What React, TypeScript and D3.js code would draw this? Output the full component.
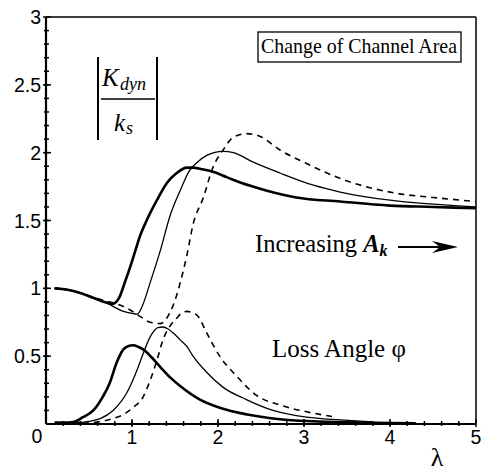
import React from "react";
import * as d3 from "d3";

// Upper curves: |K_dyn / k_s|
const u1X = [0.1, 0.25, 0.4, 0.55, 0.7, 0.77, 0.85, 0.92, 0.98, 1.04, 1.09, 1.17, 1.29, 1.41, 1.52, 1.64, 1.71, 1.8, 1.94, 2.1, 2.26, 2.57, 2.91, 3.42, 4.0, 4.5, 5.0];
const u1Y = [1.0, 0.99, 0.965, 0.93, 0.895, 0.885, 0.93, 1.05, 1.16, 1.28, 1.38, 1.5, 1.65, 1.78, 1.85, 1.89, 1.89, 1.88, 1.86, 1.82, 1.78, 1.72, 1.67, 1.64, 1.61, 1.6, 1.59];
const u2X = [0.1, 0.25, 0.4, 0.55, 0.7, 0.8, 0.9, 1.0, 1.06, 1.12, 1.21, 1.33, 1.44, 1.56, 1.67, 1.76, 1.87, 2.06, 2.18, 2.41, 2.72, 3.11, 3.42, 4.0, 4.5, 5.0];
const u2Y = [1.0, 0.99, 0.965, 0.93, 0.895, 0.86, 0.83, 0.815, 0.81, 0.87, 1.04, 1.28, 1.53, 1.72, 1.87, 1.93, 1.98, 2.01, 2.0, 1.93, 1.85, 1.76, 1.71, 1.65, 1.62, 1.6];
const u3X = [0.1, 0.25, 0.4, 0.55, 0.7, 0.8, 0.98, 1.1, 1.21, 1.33, 1.44, 1.52, 1.56, 1.64, 1.71, 1.83, 1.94, 2.06, 2.17, 2.33, 2.49, 2.72, 3.03, 3.38, 4.08, 4.5, 5.0];
const u3Y = [1.0, 0.99, 0.965, 0.935, 0.905, 0.89, 0.84, 0.79, 0.75, 0.74, 0.82, 0.95, 1.04, 1.25, 1.47, 1.67, 1.89, 2.02, 2.11, 2.14, 2.12, 2.02, 1.92, 1.82, 1.7, 1.67, 1.64];

// Lower curves: loss angle
const l1X = [0.1, 0.2, 0.32, 0.43, 0.55, 0.66, 0.74, 0.82, 0.9, 0.96, 1.01, 1.07, 1.13, 1.23, 1.33, 1.45, 1.56, 1.79, 2.02, 2.34, 2.72, 3.1, 3.5, 4.0, 4.3];
const l1Y = [0.01, 0.01, 0.015, 0.05, 0.1, 0.2, 0.3, 0.45, 0.55, 0.575, 0.58, 0.57, 0.55, 0.49, 0.42, 0.34, 0.28, 0.18, 0.12, 0.07, 0.035, 0.02, 0.012, 0.007, 0.005];
const l2X = [0.1, 0.32, 0.5, 0.63, 0.78, 0.94, 1.06, 1.13, 1.21, 1.3, 1.36, 1.42, 1.48, 1.56, 1.64, 1.71, 1.87, 2.06, 2.33, 2.64, 3.03, 3.42, 3.8];
const l2Y = [0.005, 0.01, 0.02, 0.04, 0.1, 0.23, 0.4, 0.52, 0.64, 0.71, 0.715, 0.7, 0.67, 0.62, 0.57, 0.5, 0.38, 0.27, 0.18, 0.1, 0.05, 0.03, 0.015];
const l3X = [0.43, 0.6, 0.78, 0.9, 1.01, 1.13, 1.21, 1.29, 1.36, 1.44, 1.52, 1.58, 1.64, 1.7, 1.76, 1.87, 2.02, 2.22, 2.45, 2.72, 3.03, 3.38];
const l3Y = [0.005, 0.015, 0.04, 0.07, 0.12, 0.2, 0.32, 0.47, 0.62, 0.72, 0.78, 0.82, 0.83, 0.82, 0.8, 0.67, 0.5, 0.35, 0.21, 0.14, 0.09, 0.05];

const xTickLabels = ["1", "2", "3", "4", "5"];
const yTickLabels = ["0.5", "1", "1.5", "2", "2.5", "3"];

const W = 483;
const H = 474;

export default function App() {
  const x = d3.scaleLinear().domain([0, 5]).range([46, 476]);
  const y = d3.scaleLinear().domain([0, 3]).range([424, 17]);
  const line = d3
    .line<[number, number]>()
    .x((d) => x(d[0]))
    .y((d) => y(d[1]))
    .curve(d3.curveMonotoneX);
  const pts = (xs: number[], ys: number[]) => xs.map((v, i) => [v, ys[i]] as [number, number]);

  const series = [
    { d: pts(u1X, u1Y), w: 2.6, dash: "" },
    { d: pts(u2X, u2Y), w: 1.3, dash: "" },
    { d: pts(u3X, u3Y), w: 1.6, dash: "6,5" },
    { d: pts(l1X, l1Y), w: 2.6, dash: "" },
    { d: pts(l2X, l2Y), w: 1.3, dash: "" },
    { d: pts(l3X, l3Y), w: 1.6, dash: "6,5" },
  ];

  const yMinor = d3.range(1, 30).map((i) => i / 10);
  const xMinor = d3.range(1, 25).map((i) => i / 5);
  const sans = "'Liberation Sans', Arial, sans-serif";
  const serif = "'Liberation Serif', 'Times New Roman', serif";

  return (
    <svg width={W} height={H} style={{ position: "absolute", left: 0, top: 0, background: "#fff" }}>
      {/* frame */}
      <line x1={x(0)} x2={x(5)} y1={y(3)} y2={y(3)} stroke="#000" strokeWidth={1.5} />
      <line x1={x(5)} x2={x(5)} y1={y(3)} y2={y(0)} stroke="#000" strokeWidth={1.5} />
      <line x1={x(0)} x2={x(0)} y1={y(3)} y2={y(0)} stroke="#000" strokeWidth={2.2} />
      <line x1={x(0)} x2={x(5)} y1={y(0)} y2={y(0)} stroke="#000" strokeWidth={2.2} />

      {/* y ticks */}
      {yMinor.map((v) => (
        <line key={"ym" + v} x1={x(0) - 2} x2={x(0) + 3} y1={y(v)} y2={y(v)} stroke="#000" strokeWidth={1.5} />
      ))}
      {yTickLabels.map((t) => (
        <g key={"yl" + t}>
          <line x1={x(0) - 3} x2={x(0) + 5} y1={y(+t)} y2={y(+t)} stroke="#000" strokeWidth={1.5} />
          <text x={41} y={y(+t)} dy="0.36em" textAnchor="end" fontFamily={sans} fontSize={19.5}>
            {t}
          </text>
        </g>
      ))}
      {/* x ticks */}
      {xMinor.map((v) => (
        <line key={"xm" + v} x1={x(v)} x2={x(v)} y1={y(0) - 3} y2={y(0) + 2} stroke="#000" strokeWidth={1.5} />
      ))}
      {xTickLabels.map((t) => (
        <g key={"xl" + t}>
          <line x1={x(+t)} x2={x(+t)} y1={y(0) - 5} y2={y(0) + 3} stroke="#000" strokeWidth={1.5} />
          <text x={x(+t)} y={444} textAnchor="middle" fontFamily={sans} fontSize={19.5}>
            {t}
          </text>
        </g>
      ))}
      <text x={37} y={443} textAnchor="middle" fontFamily={sans} fontSize={19.5}>
        0
      </text>
      <text x={437} y={466} textAnchor="middle" fontFamily={serif} fontSize={26}>
        λ
      </text>

      {/* curves */}
      {series.map((s, i) => (
        <path
          key={i}
          d={line(s.d) || ""}
          fill="none"
          stroke="#000"
          strokeWidth={s.w}
          strokeDasharray={s.dash || undefined}
          strokeLinejoin="round"
        />
      ))}

      {/* title box */}
      <rect x={258} y={32} width={203} height={30} fill="#fff" stroke="#000" strokeWidth={1.3} />
      <text x={261} y={53} fontFamily={serif} fontSize={21.5} textLength={196} lengthAdjust="spacingAndGlyphs">
        Change of Channel Area
      </text>

      {/* |K_dyn / k_s| */}
      <line x1={98} x2={98} y1={57} y2={140} stroke="#000" strokeWidth={2} />
      <line x1={157} x2={157} y1={57} y2={140} stroke="#000" strokeWidth={2} />
      <line x1={101} x2={155} y1={99} y2={99} stroke="#000" strokeWidth={1.4} />
      <text x={102} y={86} fontFamily={serif} fontStyle="italic" fontSize={25}>
        K
      </text>
      <text x={120} y={90} fontFamily={serif} fontStyle="italic" fontSize={18}>
        dyn
      </text>
      <text x={114} y={131} fontFamily={serif} fontStyle="italic" fontSize={25}>
        k
      </text>
      <text x={126} y={134} fontFamily={serif} fontStyle="italic" fontSize={18}>
        s
      </text>

      {/* Increasing A_k */}
      <text x={255} y={252} fontFamily={serif} fontSize={24.5}>
        Increasing{" "}
        <tspan fontWeight="bold" fontStyle="italic">A</tspan>
        <tspan fontWeight="bold" fontStyle="italic" fontSize={16} dy={4}>k</tspan>
      </text>
      <line x1={398} x2={450} y1={247} y2={247} stroke="#000" strokeWidth={1.8} />
      <path d="M432,241 L458,247 L432,253 L440,247 Z" fill="#000" />

      {/* Loss angle */}
      <text x={272} y={357} fontFamily={serif} fontSize={25}>
        Loss Angle φ
      </text>
    </svg>
  );
}
